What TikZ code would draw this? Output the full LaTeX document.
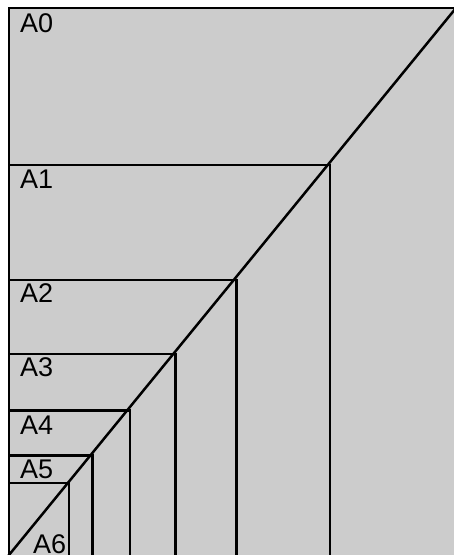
\documentclass[tikz,border=0pt]{standalone}
\usepackage{fontspec}
\setmainfont{Liberation Sans}
\definecolor{sheetgray}{HTML}{CCCCCC}
\begin{document}
\begin{tikzpicture}[x=1pt, y=1pt,
    edge/.style={line width=2.5pt},
    sheetlabel/.style={anchor=north west, inner sep=0pt,
        font=\fontsize{27}{27}\selectfont}]
    \useasboundingbox (0,0) rectangle (454,555);
    \clip (0,0) rectangle (454,555);

    % A0 sheet, running past the right and bottom border
    \fill[sheetgray] (9,-10) rectangle (480,547);
    \draw[edge] (9,-10) -- (9,547) -- (480,547);
    \node[sheetlabel] (a0) at (20,542) {A0};

    % Sheets A1 to A6, corners on the diagonal
    \foreach \n/\x/\y/\lx/\ly in {1/330/390/20/385, 2/236.7/275/20/272,
        3/175.7/201/20/198, 4/130/144.3/20/139.3, 5/92.3/99.3/20/95,
        6/69/72/33/21} {
        \coordinate (c\n) at (\x,\y);
        \draw[edge] (9,\y) -- (c\n) -- (\x,-10);
        \node[sheetlabel] (a\n) at (\lx,\ly) {A\n};
    }

    % Diagonal through the corners
    \coordinate (low) at (9,0);
    \coordinate (high) at (456,547);
    \draw[edge, shorten <=-10pt, shorten >=-10pt] (low) -- (high);
\end{tikzpicture}
\end{document}
